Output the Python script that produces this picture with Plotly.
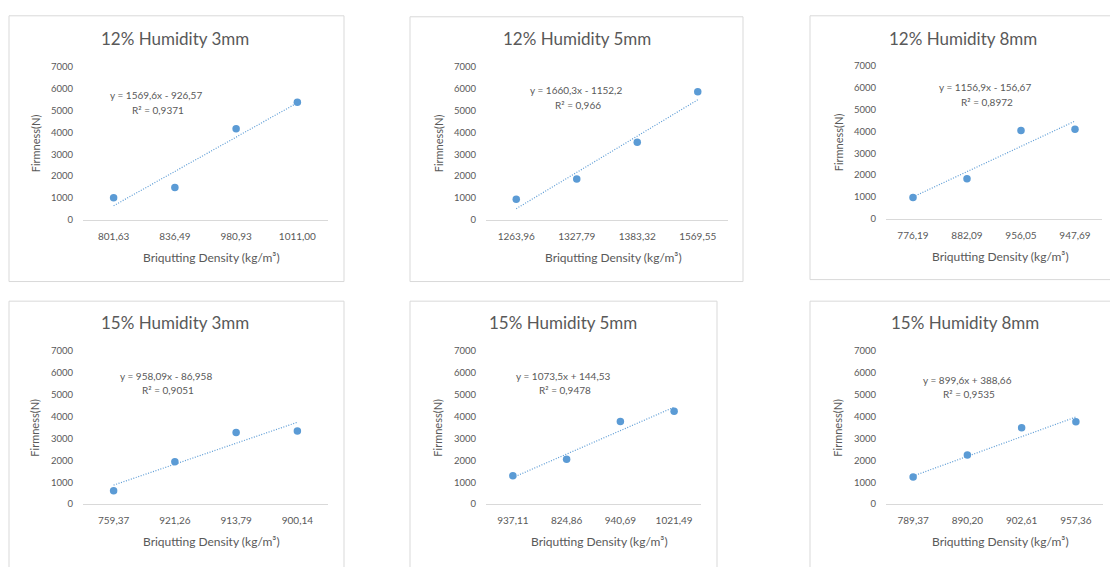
import plotly.graph_objects as go

# ---------------- data ----------------
titles = ["12% Humidity 3mm", "12% Humidity 5mm", "12% Humidity 8mm",
          "15% Humidity 3mm", "15% Humidity 5mm", "15% Humidity 8mm"]

dens_12_3 = ["801,63", "836,49", "980,93", "1011,00"]
dens_12_5 = ["1263,96", "1327,79", "1383,32", "1569,55"]
dens_12_8 = ["776,19", "882,09", "956,05", "947,69"]
dens_15_3 = ["759,37", "921,26", "913,79", "900,14"]
dens_15_5 = ["937,11", "824,86", "940,69", "1021,49"]
dens_15_8 = ["789,37", "890,20", "902,61", "957,36"]

firm_12_3 = [1010, 1480, 4170, 5380]
firm_12_5 = [940, 1870, 3545, 5860]
firm_12_8 = [970, 1830, 4040, 4100]
firm_15_3 = [610, 1945, 3275, 3350]
firm_15_5 = [1300, 2050, 3785, 4250]
firm_15_8 = [1240, 2245, 3500, 3770]

slopes = [1569.6, 1660.3, 1156.9, 958.09, 1073.5, 899.6]
intercepts = [-926.57, -1152.2, -156.67, -86.958, 144.53, 388.66]
eq_text = ["y = 1569,6x - 926,57", "y = 1660,3x - 1152,2", "y = 1156,9x - 156,67",
           "y = 958,09x - 86,958", "y = 1073,5x + 144,53", "y = 899,6x + 388,66"]
r2_text = ["R² = 0,9371", "R² = 0,966", "R² = 0,8972",
           "R² = 0,9051", "R² = 0,9478", "R² = 0,9535"]

y_ticks = [0, 1000, 2000, 3000, 4000, 5000, 6000, 7000]
x_title = "Briqutting Density (kg/m³)"
y_title = "Firmness(N)"

densities = [dens_12_3, dens_12_5, dens_12_8, dens_15_3, dens_15_5, dens_15_8]
firmness = [firm_12_3, firm_12_5, firm_12_8, firm_15_3, firm_15_5, firm_15_8]

# ---------------- layout (pixels) ----------------
W, H = 1110, 567
panels = [
    dict(box=(9, 10, 344, 281), plot=(83, 62, 328, 218), title=(175, 33), eq=(156, 91)),
    dict(box=(410, 11, 743, 281), plot=(486, 62, 728, 218), title=(577, 33), eq=(576, 86)),
    dict(box=(810, 10, 1120, 279), plot=(886, 61, 1102, 217), title=(963, 33), eq=(985, 83)),
    dict(box=(9, 301, 344, 580), plot=(83, 352, 328, 508), title=(175, 323), eq=(166, 377)),
    dict(box=(410, 301, 717, 580), plot=(486, 352, 701, 508), title=(563, 323), eq=(563, 377)),
    dict(box=(810, 301, 1120, 580), plot=(886, 352, 1103, 508), title=(965, 323), eq=(967, 381)),
]

FONT = "Lato, 'Open Sans', sans-serif"
TXT = "#595959"
BLUE = "#5B9BD5"
GRID = "#D9D9D9"

def px(x):
    return x / W

def py(y):
    return 1 - y / H

fig = go.Figure()
annotations = []
shapes = []

for i, p in enumerate(panels):
    n = "" if i == 0 else str(i + 1)
    xa, ya = "x" + n, "y" + n
    cats = densities[i]
    trend_y = [slopes[i] * (k + 1) + intercepts[i] for k in range(len(cats))]
    fig.add_trace(go.Scatter(
        x=cats, y=trend_y, mode="lines", xaxis=xa, yaxis=ya,
        line=dict(color=BLUE, width=1.2, dash="1px,1.6px"), showlegend=False, hoverinfo="skip"))
    fig.add_trace(go.Scatter(
        x=cats, y=firmness[i], mode="markers", xaxis=xa, yaxis=ya,
        marker=dict(color=BLUE, size=7.5), showlegend=False, hoverinfo="x+y"))

    x0, yt, x1, yb = p["plot"]
    fig.update_layout(**{
        "xaxis" + n: dict(domain=[px(x0), px(x1)], anchor=ya, type="category",
                          categoryorder="array", categoryarray=cats,
                          range=[-0.5, len(cats) - 0.5],
                          showline=True, linecolor=GRID, linewidth=1,
                          showgrid=False, zeroline=False,
                          ticks="outside", ticklen=7, tickcolor="rgba(0,0,0,0)",
                          tickfont=dict(family=FONT, size=10, color=TXT), fixedrange=True),
        "yaxis" + n: dict(domain=[py(yb), py(yt)], anchor=xa, range=[0, 7000],
                          tickvals=y_ticks, showline=False, showgrid=False, zeroline=False,
                          ticks="outside", ticklen=7, tickcolor="rgba(0,0,0,0)",
                          tickfont=dict(family=FONT, size=9.5, color=TXT), fixedrange=True),
    })

    bx0, by0, bx1, by1 = p["box"]
    shapes.append(dict(type="rect", xref="paper", yref="paper",
                       x0=px(bx0), x1=px(bx1), y0=py(by1), y1=py(by0),
                       line=dict(color=GRID, width=1), fillcolor="rgba(0,0,0,0)"))

    tx, ty = p["title"]
    annotations.append(dict(text=titles[i], x=px(tx), y=py(ty), xref="paper", yref="paper",
                            showarrow=False, xanchor="center", yanchor="middle",
                            font=dict(family=FONT, size=17, color=TXT)))
    annotations.append(dict(text=y_title, x=px(x0 - 48), y=py((yt + yb) / 2), xref="paper",
                            yref="paper", showarrow=False, textangle=-90,
                            xanchor="center", yanchor="middle",
                            font=dict(family=FONT, size=11, color=TXT)))
    annotations.append(dict(text=x_title, x=px((x0 + x1) / 2 + 6), y=py(yb + 38), xref="paper",
                            yref="paper", showarrow=False, xanchor="center", yanchor="middle",
                            font=dict(family=FONT, size=12, color=TXT)))
    ex, ey = p["eq"]
    annotations.append(dict(text=eq_text[i], x=px(ex), y=py(ey), xref="paper", yref="paper",
                            showarrow=False, xanchor="center", yanchor="middle",
                            font=dict(family=FONT, size=10, color=TXT)))
    annotations.append(dict(text=r2_text[i], x=px(ex + 2), y=py(ey + 15), xref="paper",
                            yref="paper", showarrow=False, xanchor="center", yanchor="middle",
                            font=dict(family=FONT, size=10, color=TXT)))

fig.update_layout(width=W, height=H, margin=dict(l=0, r=0, t=0, b=0),
                  paper_bgcolor="white", plot_bgcolor="white",
                  annotations=annotations, shapes=shapes, showlegend=False)

fig.write_html("out.html", config={"displayModeBar": False},
               post_script="document.body.style.margin='0';document.body.style.overflow='hidden';")
